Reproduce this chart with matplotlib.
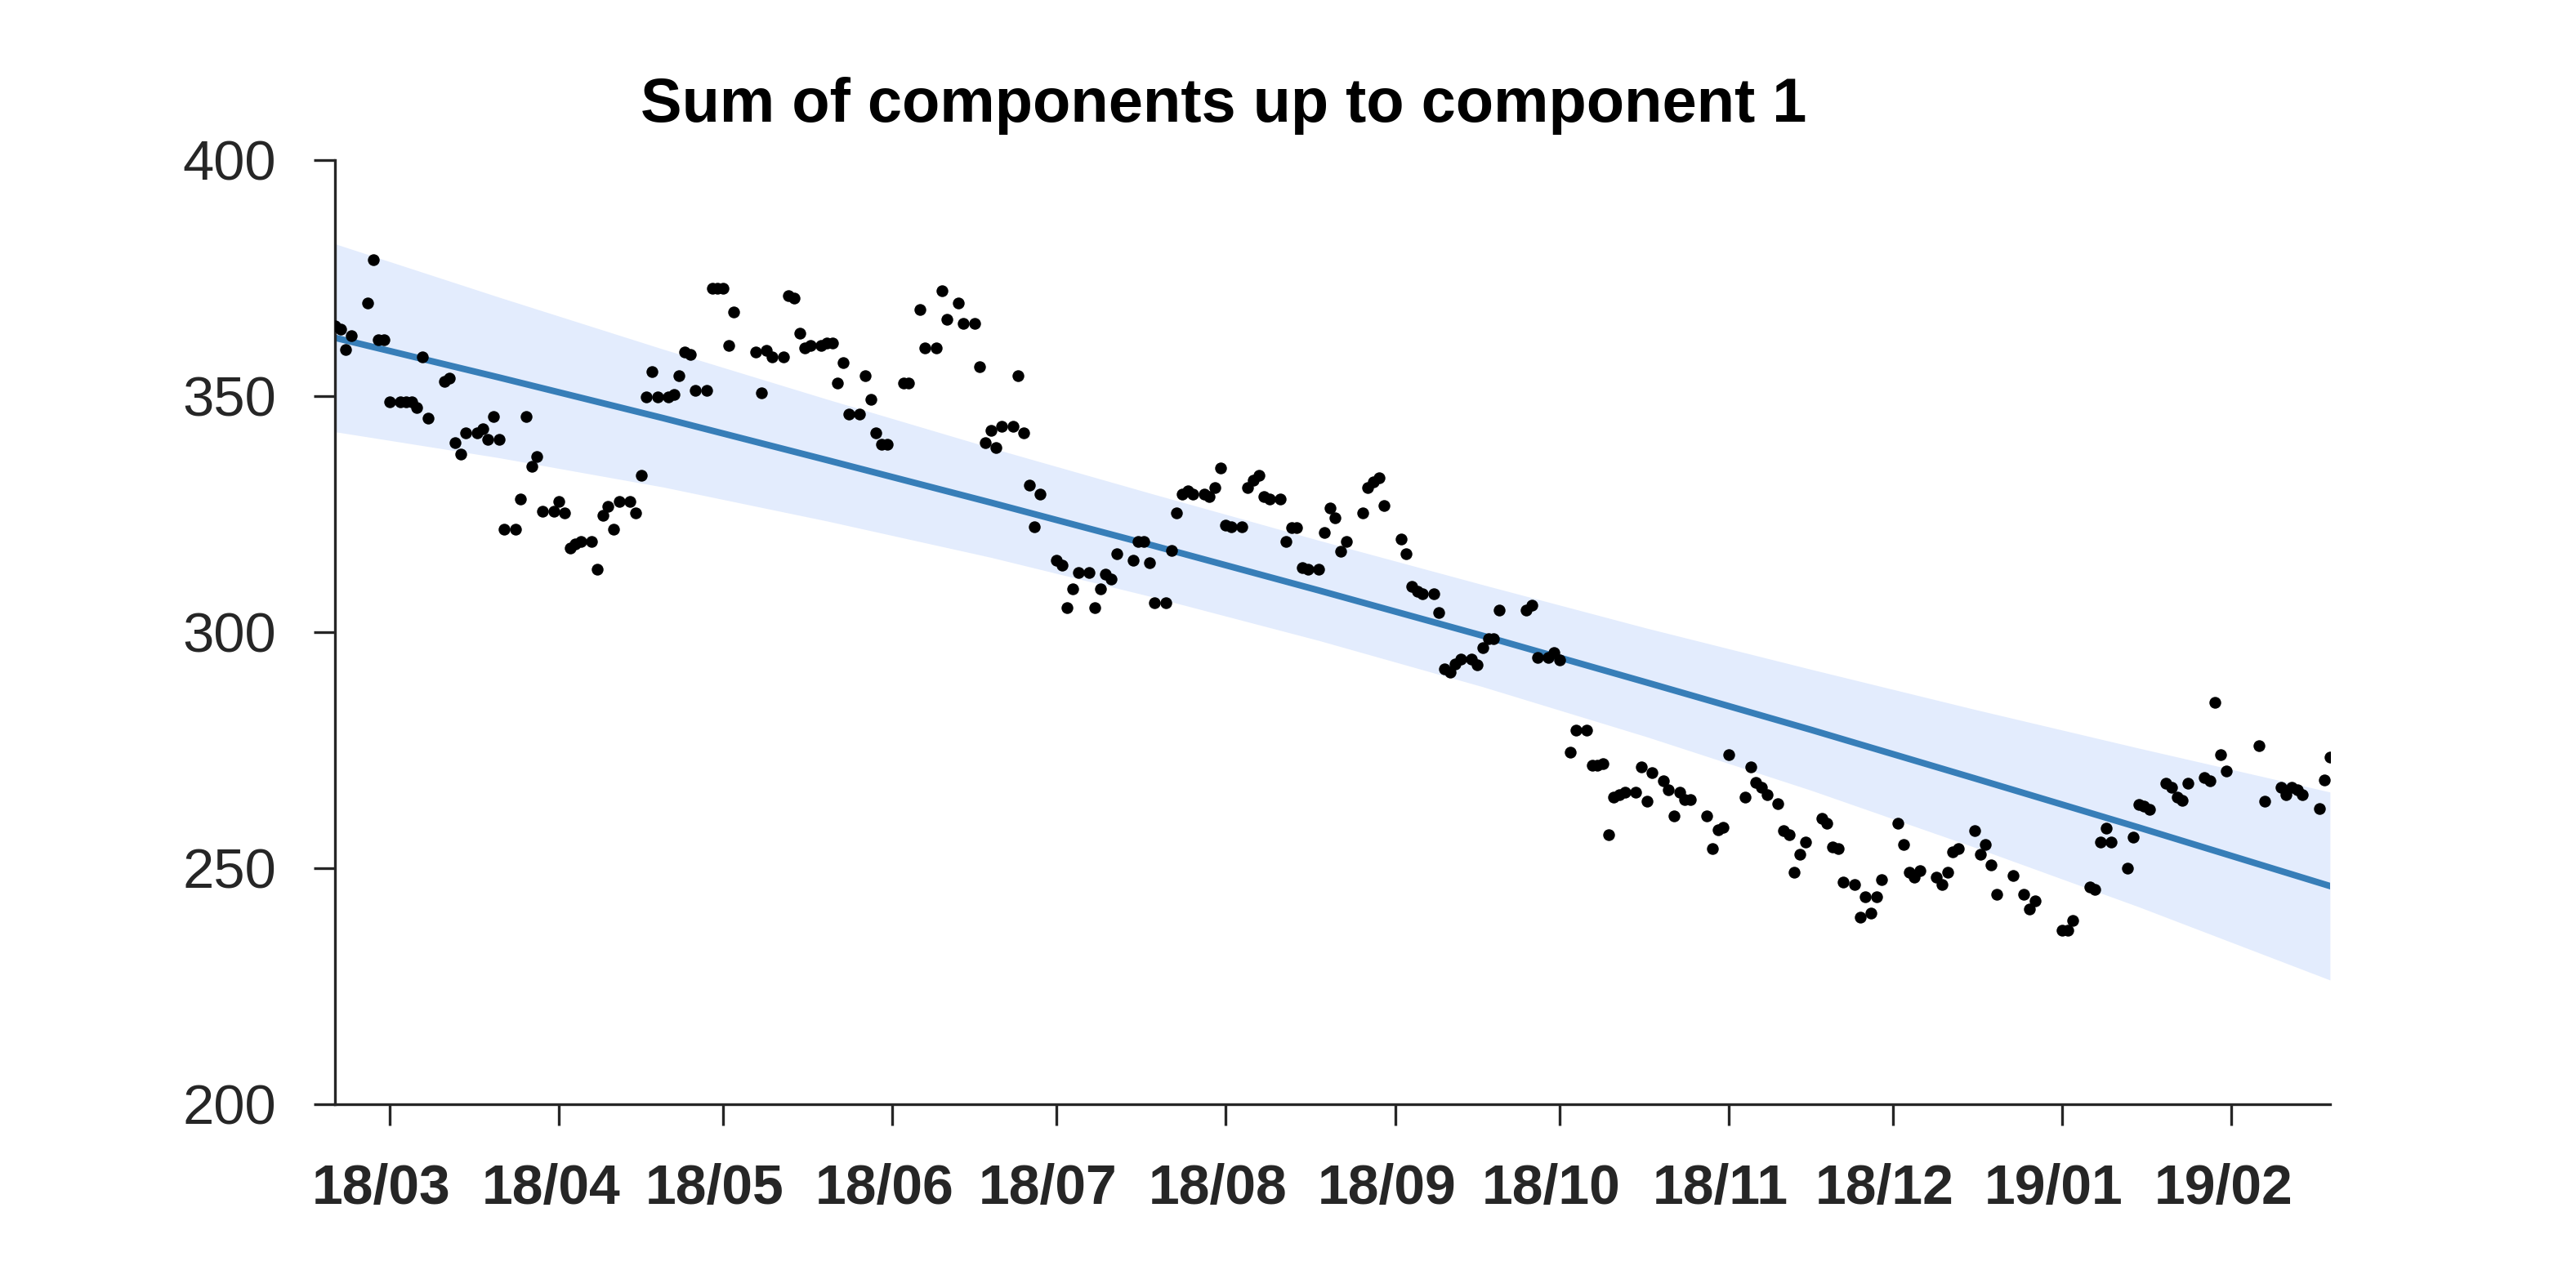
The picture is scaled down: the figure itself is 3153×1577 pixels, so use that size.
import numpy as np
import pandas as pd
import matplotlib
matplotlib.use("Agg")
import matplotlib.pyplot as plt
import matplotlib.dates as mdates
import matplotlib.transforms as mtransforms

plt.rcParams['font.family'] = ['Liberation Sans', 'DejaVu Sans']

# first observation, day offsets below count from here
start = pd.Timestamp("2018-02-19")

# observations: day offset from start, value
days = [0, 1, 2, 3, 6, 7, 8, 9, 10, 12, 13, 14, 15, 16, 17, 20, 21, 22, 23, 24,
        26, 27, 28, 29, 30, 31, 33, 34, 35, 36, 37, 38, 40, 41, 42, 43, 44, 45, 47, 48,
        49, 50, 51, 52, 54, 55, 56, 57, 58, 59, 61, 62, 63, 64, 65, 66, 68, 69, 70, 71,
        72, 73, 77, 78, 79, 80, 82, 83, 84, 85, 86, 87, 89, 90, 91, 92, 93, 94, 96, 97,
        98, 99, 100, 101, 104, 105, 107, 108, 110, 111, 112, 114, 115, 117, 118, 119, 120, 121, 122, 124,
        125, 126, 127, 128, 129, 132, 133, 134, 135, 136, 138, 139, 140, 141, 142, 143, 146, 147, 148, 149,
        150, 152, 153, 154, 155, 156, 157, 159, 160, 161, 162, 163, 164, 166, 167, 168, 169, 170, 171, 173,
        174, 175, 176, 177, 178, 180, 181, 182, 183, 184, 185, 188, 189, 190, 191, 192, 195, 196, 197, 198,
        199, 201, 202, 203, 204, 205, 206, 208, 209, 210, 211, 212, 213, 218, 219, 220, 222, 223, 224, 226,
        227, 229, 230, 231, 232, 233, 234, 235, 236, 238, 239, 240, 241, 243, 244, 245, 246, 247, 248, 251,
        252, 253, 254, 255, 258, 259, 260, 261, 262, 264, 265, 266, 267, 268, 269, 272, 273, 274, 275, 276,
        278, 279, 280, 281, 282, 283, 286, 287, 288, 289, 290, 293, 294, 295, 296, 297, 300, 301, 302, 303,
        304, 307, 309, 310, 311, 316, 317, 318, 321, 322, 323, 324, 325, 328, 329, 330, 331, 332, 335, 336,
        337, 338, 339, 342, 343, 344, 345, 346, 352, 353, 356, 357, 358, 359, 360, 363, 364, 365]
values = [364.8, 364.2, 359.8, 362.7, 369.7, 378.8, 361.8, 361.8, 348.7, 348.7, 348.7, 348.7, 347.6, 358.2, 345.2, 353.1, 353.8, 340.1, 337.7, 342.2,
          342.2, 343.1, 340.7, 345.6, 340.7, 321.7, 321.7, 328.2, 345.6, 335.1, 337.1, 325.6, 325.6, 327.6, 325.2, 317.7, 318.6, 319.1, 319.1, 313.2,
          324.7, 326.6, 321.7, 327.6, 327.6, 325.2, 333.2, 349.7, 355.2, 349.7, 349.7, 350.2, 354.2, 359.2, 358.7, 351.2, 351.2, 372.7, 372.7, 372.7,
          360.7, 367.8, 359.3, 350.6, 359.7, 358.2, 358.2, 371.2, 370.7, 363.2, 360.2, 360.7, 360.7, 361.2, 361.2, 352.7, 357.1, 346.2, 346.2, 354.2,
          349.2, 342.2, 339.7, 339.7, 352.7, 352.7, 368.2, 360.2, 360.2, 372.3, 366.2, 369.7, 365.3, 365.3, 356.2, 340.1, 342.6, 339.1, 343.6, 343.6,
          354.2, 342.2, 331.1, 322.3, 329.1, 315.2, 314.2, 305.1, 309.1, 312.6, 312.6, 305.1, 309.1, 312.2, 311.2, 316.6, 315.2, 319.1, 319.1, 314.7,
          306.1, 306.1, 317.2, 325.2, 329.1, 329.9, 329.1, 329.1, 328.6, 330.6, 334.7, 322.7, 322.2, 322.2, 330.6, 332.2, 333.2, 328.6, 328.2, 328.2,
          319.1, 322.1, 322.1, 313.6, 313.2, 313.2, 321.1, 326.2, 324.1, 317.1, 319.1, 325.2, 330.6, 331.7, 332.7, 326.7, 319.7, 316.6, 309.7, 308.6,
          308.0, 308.0, 304.1, 292.1, 291.4, 293.2, 294.3, 294.3, 293.0, 296.6, 298.6, 298.6, 304.6, 304.6, 305.6, 294.6, 294.6, 295.6, 294.0, 274.5,
          279.2, 279.2, 271.7, 271.7, 272.1, 257.1, 265.0, 265.5, 266.0, 266.1, 271.5, 264.1, 270.2, 268.5, 266.5, 261.1, 266.1, 264.5, 264.5, 261.1,
          254.1, 258.1, 258.6, 274.0, 265.0, 271.5, 268.1, 267.1, 265.6, 263.6, 258.0, 257.0, 249.1, 253.0, 255.5, 260.6, 259.5, 254.5, 254.1, 247.0,
          246.5, 239.6, 244.0, 240.5, 244.0, 247.5, 259.5, 255.0, 249.1, 248.1, 249.5, 248.1, 246.6, 249.1, 253.5, 254.1, 258.0, 253.0, 255.0, 250.6,
          244.5, 248.5, 244.5, 241.4, 243.0, 236.9, 236.9, 238.9, 246.0, 245.5, 255.5, 258.5, 255.5, 250.0, 256.5, 263.5, 263.1, 262.4, 268.0, 267.1,
          265.0, 264.4, 268.0, 269.1, 268.5, 285.0, 274.1, 270.6, 276.0, 264.1, 267.1, 265.6, 267.1, 266.5, 265.6, 262.6, 268.6, 273.5]

# fitted trend and its band, read every ~30 days
trend_days = [0, 30, 60, 90, 120, 150, 180, 210, 240, 270, 300, 330, 365]
trend = [362.3, 353.9, 345.3, 336.4, 327.4, 318.2, 308.8, 299.2, 289.3, 279.3, 269.0, 258.6, 246.2]
band_lo = [342.4, 336.9, 330.7, 323.5, 315.8, 307.3, 298.2, 288.4, 277.8, 266.5, 254.4, 241.8, 226.3]
band_hi = [382.2, 370.9, 359.9, 349.3, 339.0, 329.1, 319.4, 310.0, 300.8, 292.1, 283.6, 275.4, 266.1]

title = "Sum of components up to component 1"


def to_dates(offsets):
    return start + pd.to_timedelta(offsets, unit="D")


def main():
    x = to_dates(days)
    xt = to_dates(trend_days)

    fig = plt.figure(figsize=(3153 / 300, 1577 / 300), dpi=300)
    ax = fig.add_axes([0.1300, 0.1427, 0.7745, 0.7333])

    ax.fill_between(xt, band_lo, band_hi, color="#e3ecfd", linewidth=0, zorder=1)
    ax.plot(xt, trend, color="#377eb8", linewidth=1.9, zorder=2)
    ax.scatter(x, values, s=12, color="black", linewidths=0, zorder=3)

    ax.set_xlim(start, to_dates([365])[0])
    ax.set_ylim(200, 400)
    ax.set_yticks([200, 250, 300, 350, 400])

    ax.xaxis.set_major_locator(mdates.MonthLocator())
    ax.xaxis.set_major_formatter(mdates.DateFormatter("%y/%m"))

    for side in ["top", "right"]:
        ax.spines[side].set_visible(False)
    for side in ["left", "bottom"]:
        ax.spines[side].set_linewidth(0.8)
        ax.spines[side].set_color("#262626")

    ax.tick_params(axis="both", direction="out", length=6.3, width=0.8,
                   color="#262626", labelcolor="#262626")
    ax.tick_params(axis="y", labelsize=16.5, pad=11)
    ax.tick_params(axis="x", labelsize=16.3, pad=11)

    fig.canvas.draw()
    shift = mtransforms.ScaledTranslation(-2.4 / 72, 0, fig.dpi_scale_trans)
    for lab in ax.get_xticklabels():
        lab.set_fontweight("bold")
        lab.set_transform(lab.get_transform() + shift)

    fig.text(0.475, 0.918, title, ha="center", va="center",
             fontsize=18.2, fontweight="bold", color="black")

    fig.savefig("out.png", dpi=300)


if __name__ == "__main__":
    main()
